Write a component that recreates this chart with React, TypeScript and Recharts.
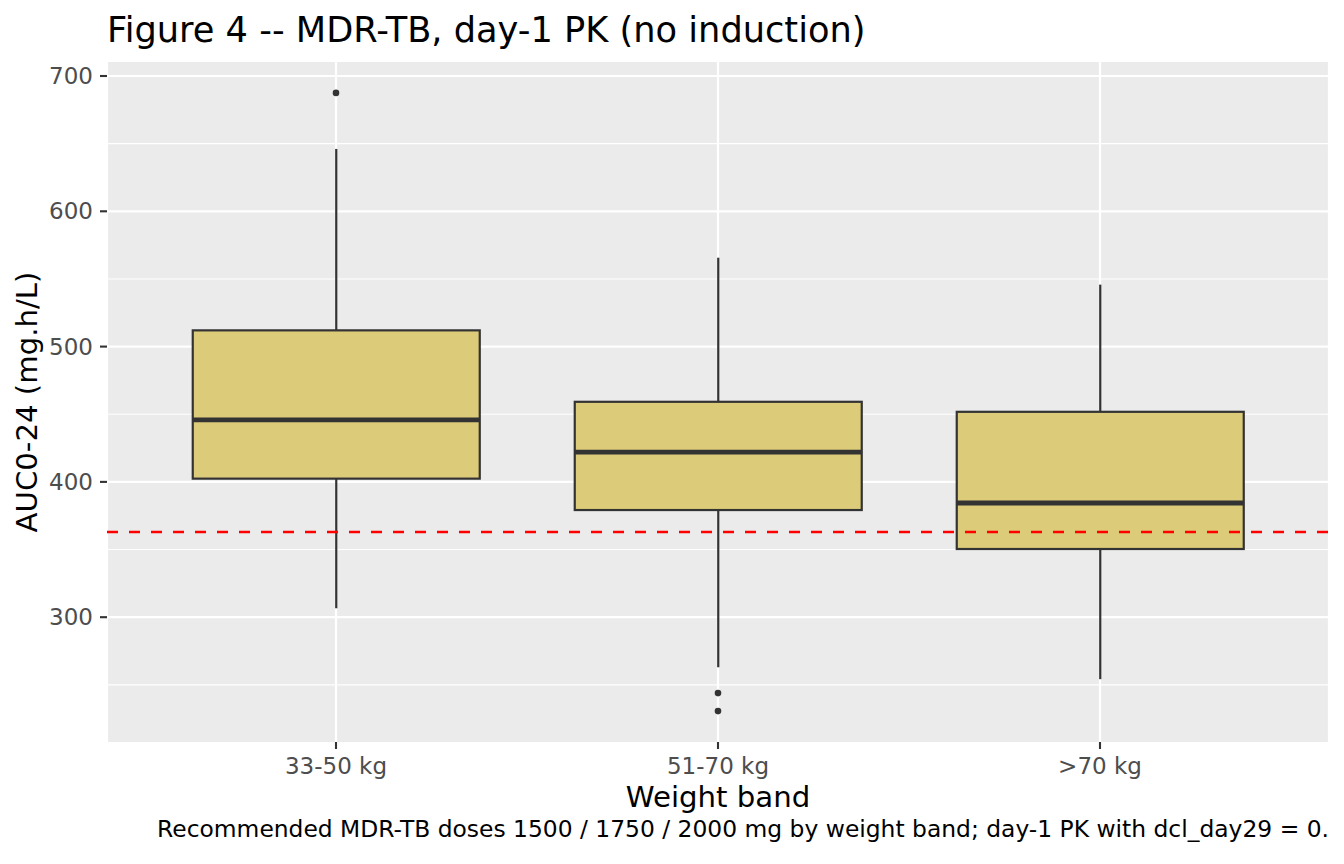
import { Bar, CartesianGrid, ComposedChart, ReferenceLine, Scatter, XAxis, YAxis } from "recharts"

// weight bands and five-number summaries of day-1 AUC0-24 (mg.h/L)
const bands = ["33-50 kg", "51-70 kg", ">70 kg"]
const lowerWhisker = [306.6, 263, 254.2]
const lowerQuartile = [402.4, 379.2, 350.4]
const medians = [445.9, 422, 384.4]
const upperQuartile = [512, 459.2, 451.8]
const upperWhisker = [646.1, 565.7, 545.8]

// points beyond 1.5 IQR
const outlierBands = ["33-50 kg", "51-70 kg", "51-70 kg"]
const outlierValues = [687.5, 243.9, 230.6]

const targetAuc = 363
const majorTicks = [300, 400, 500, 600, 700]
const minorTicks = [250, 350, 450, 550, 650]

const FONT = "DejaVu Sans"
const BOX_FILL = "#DCCB78"
const INK = "#333333"

const rows = bands.map((band, i) => ({
  band,
  lo: lowerWhisker[i],
  q1: lowerQuartile[i],
  median: medians[i],
  q3: upperQuartile[i],
  hi: upperWhisker[i],
  box: [lowerQuartile[i], upperQuartile[i]],
}))

const outliers = outlierBands.map((band, i) => ({ band, value: outlierValues[i] }))

// ggplot-style 5% expansion around the data
const allValues = [...lowerWhisker, ...upperWhisker, ...outlierValues]
const dataMin = Math.min(...allValues)
const dataMax = Math.max(...allValues)
const pad = (dataMax - dataMin) * 0.05
const yDomain = [dataMin - pad, dataMax + pad]

// box with whiskers and median, positioned from the bar's own q1..q3 geometry
function BoxShape(props: any) {
  const { x, y, width, height, payload } = props
  const top = Math.min(y, y + height)
  const h = Math.abs(height)
  const k = h / (payload.q3 - payload.q1)
  const toY = (v: number) => top + (payload.q3 - v) * k
  const cx = x + width / 2
  return (
    <g>
      <line x1={cx} x2={cx} y1={toY(payload.hi)} y2={top} stroke={INK} strokeWidth={2.2} />
      <line x1={cx} x2={cx} y1={top + h} y2={toY(payload.lo)} stroke={INK} strokeWidth={2.2} />
      <rect x={x} y={top} width={width} height={h} fill={BOX_FILL} stroke={INK} strokeWidth={2.2} />
      <line x1={x} x2={x + width} y1={toY(payload.median)} y2={toY(payload.median)} stroke={INK} strokeWidth={4.8} />
    </g>
  )
}

export default function App() {
  return (
    <div style={{ position: "absolute", left: 0, top: 0, width: 1344, height: 864, background: "#fff", fontFamily: FONT }}>
      <ComposedChart
        width={1344}
        height={864}
        data={rows}
        margin={{ top: 62, right: 15, bottom: 0, left: 0 }}
        barCategoryGap="12.5%"
      >
        <CartesianGrid fill="#EBEBEB" stroke="#FFFFFF" strokeWidth={1.1} vertical={false} horizontalValues={minorTicks} />
        <CartesianGrid stroke="#FFFFFF" strokeWidth={2.2} horizontalValues={majorTicks} />
        <XAxis
          dataKey="band"
          type="category"
          allowDuplicatedCategory={false}
          interval={0}
          height={122}
          padding={{ left: 38, right: 38 }}
          axisLine={false}
          tickSize={7}
          tickMargin={9}
          tickLine={{ stroke: INK, strokeWidth: 2.1 }}
          tick={{ fill: "#4D4D4D", fontSize: 23, fontFamily: FONT }}
        />
        <YAxis
          type="number"
          domain={yDomain}
          ticks={majorTicks}
          width={107}
          axisLine={false}
          tickSize={7}
          tickMargin={7}
          tickLine={{ stroke: INK, strokeWidth: 2.1 }}
          tick={{ fill: "#4D4D4D", fontSize: 23, fontFamily: FONT }}
        />
        <Bar dataKey="box" shape={BoxShape} isAnimationActive={false} />
        <Scatter
          data={outliers}
          dataKey="value"
          isAnimationActive={false}
          shape={(p: any) => <circle cx={p.cx} cy={p.cy} r={3.3} fill={INK} />}
        />
        <ReferenceLine y={targetAuc} stroke="#FF0000" strokeWidth={2.6} strokeDasharray="11 11" />
      </ComposedChart>
      <svg width={1344} height={864} style={{ position: "absolute", left: 0, top: 0, pointerEvents: "none" }}>
        <text x={107} y={42} fontSize={35.2} fontFamily={FONT} fill="#000">
          Figure 4 -- MDR-TB, day-1 PK (no induction)
        </text>
        <text x={718} y={807} fontSize={29.2} fontFamily={FONT} fill="#000" textAnchor="middle">
          Weight band
        </text>
        <text
          x={37}
          y={402}
          fontSize={29.2}
          fontFamily={FONT}
          fill="#000"
          textAnchor="middle"
          transform="rotate(-90 37 402)"
        >
          AUC0-24 (mg.h/L)
        </text>
        <text x={1329} y={837} fontSize={23.4} fontFamily={FONT} fill="#000" textAnchor="end">
          Recommended MDR-TB doses 1500 / 1750 / 2000 mg by weight band; day-1 PK with dcl_day29 = 0.
        </text>
      </svg>
    </div>
  )
}
